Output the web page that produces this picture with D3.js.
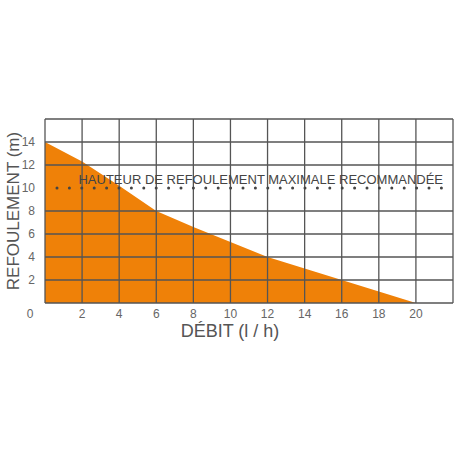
<!DOCTYPE html>
<html><head><meta charset="utf-8">
<script src="https://cdn.jsdelivr.net/npm/d3@7"></script>
<style>body{margin:0;background:#fff}text{font-family:"Liberation Sans Narrow","Liberation Sans",sans-serif}</style>
</head><body>
<svg id="chart" width="458" height="458"></svg>
<script>
var debit = [0, 2, 4, 6, 8, 10, 12, 14, 16, 18, 20];
var refoulement = [14, 12.3, 10.2, 8, 6.6, 5.3, 4, 3, 2, 1, 0];
var xTicks = [2, 4, 6, 8, 10, 12, 14, 16, 18, 20];
var yTicks = [2, 4, 6, 8, 10, 12, 14];
var recommande = 10;

var svg = d3.select("#chart");
var x = d3.scaleLinear().domain([0, 22]).range([45, 453]);
var y = d3.scaleLinear().domain([0, 16]).range([303, 119]);

// orange area
var area = d3.area()
    .x(function(d, i){return x(debit[i])})
    .y0(y(0))
    .y1(function(d){return y(d)});
svg.append("path").datum(refoulement)
    .attr("d", area).attr("fill", "#ef8108");

// grid
var gx = d3.range(0, 23, 2), gy = [0, 2, 4, 6, 8, 12, 14, 16];
svg.selectAll(".vl").data(gx).enter().append("line")
    .attr("x1", function(d){return x(d)}).attr("x2", function(d){return x(d)})
    .attr("y1", y(0)).attr("y2", y(16))
    .attr("stroke", "#555").attr("stroke-width", 1.3);
svg.selectAll(".hl").data(gy).enter().append("line")
    .attr("y1", function(d){return y(d)}).attr("y2", function(d){return y(d)})
    .attr("x1", x(0)).attr("x2", x(22))
    .attr("stroke", "#555").attr("stroke-width", 1.3);

// dotted recommended line
svg.append("line")
    .attr("x1", x(0) + 12).attr("x2", x(22))
    .attr("y1", y(recommande)).attr("y2", y(recommande))
    .attr("stroke", "#444").attr("stroke-width", 3)
    .attr("stroke-linecap", "round").attr("stroke-dasharray", "0 12.4");
svg.append("text").attr("x", 443).attr("y", 184).attr("text-anchor", "end")
    .attr("font-size", 13).attr("fill", "#444")
    .text("HAUTEUR DE REFOULEMENT MAXIMALE RECOMMANDÉE");

// tick labels
svg.selectAll(".xt").data(xTicks).enter().append("text")
    .attr("x", function(d){return x(d)}).attr("y", 318)
    .attr("text-anchor", "middle").attr("font-size", 12).attr("fill", "#666")
    .text(function(d){return d});
svg.append("text").attr("x", 30).attr("y", 318).attr("text-anchor", "middle")
    .attr("font-size", 12).attr("fill", "#666").text("0");
svg.selectAll(".yt").data(yTicks).enter().append("text")
    .attr("x", 35).attr("y", function(d){return y(d) + 4})
    .attr("text-anchor", "end").attr("font-size", 12).attr("fill", "#666")
    .text(function(d){return d});

// axis titles
svg.append("text").attr("x", 230).attr("y", 337).attr("text-anchor", "middle")
    .attr("font-size", 18).attr("fill", "#555").text("DÉBIT (l / h)");
svg.append("text").attr("transform", "translate(19,211) rotate(-90)")
    .attr("text-anchor", "middle").attr("font-size", 17).attr("fill", "#555")
    .text("REFOULEMENT (m)");
</script>
</body></html>
